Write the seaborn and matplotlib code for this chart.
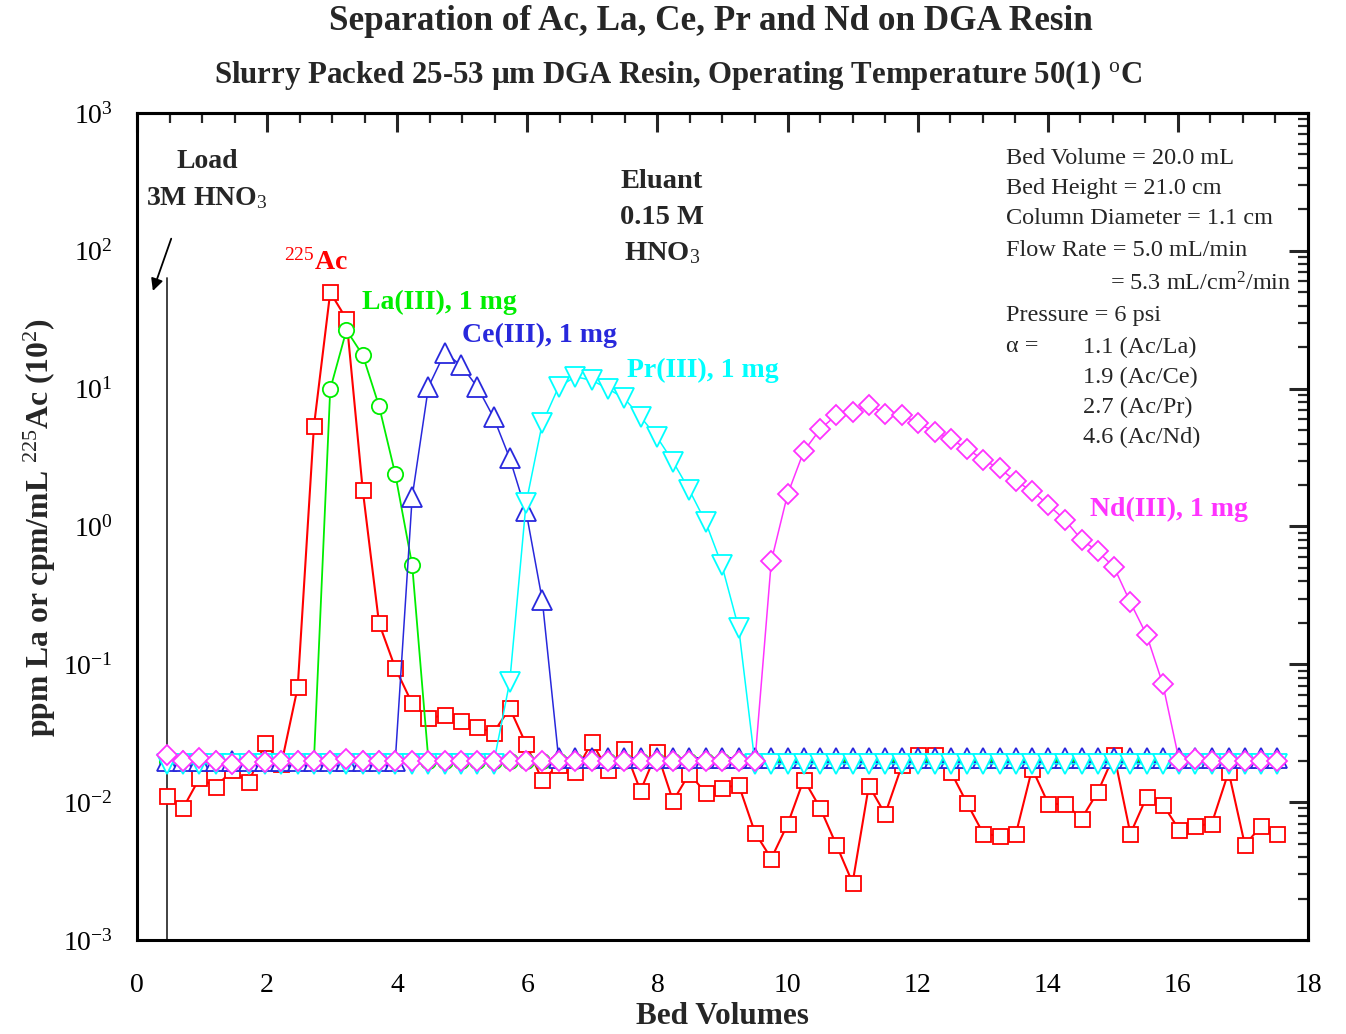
import numpy as np
import pandas as pd
import matplotlib
matplotlib.use("Agg")
import matplotlib.pyplot as plt
import seaborn as sns
from matplotlib.ticker import MultipleLocator, LogLocator, NullFormatter

# ---------------- data ----------------
bed_volumes = [0.46, 0.71, 0.96, 1.21, 1.46, 1.72, 1.97, 2.22, 2.47, 2.72,
               2.97, 3.22, 3.47, 3.72, 3.97, 4.23, 4.48, 4.73, 4.98, 5.23,
               5.48, 5.73, 5.98, 6.23, 6.48, 6.74, 6.99, 7.24, 7.49, 7.74,
               7.99, 8.24, 8.49, 8.74, 8.99, 9.25, 9.50, 9.75, 10.00, 10.25,
               10.50, 10.75, 11.00, 11.25, 11.50, 11.76, 12.01, 12.26, 12.51, 12.76,
               13.01, 13.26, 13.51, 13.76, 14.01, 14.27, 14.52, 14.77, 15.02, 15.27,
               15.52, 15.77, 16.02, 16.27, 16.52, 16.78, 17.03, 17.28, 17.53]

ac225 = [0.011, 0.0091, 0.0149, 0.0129, 0.017, 0.014, 0.0268, 0.019, 0.068, 5.35,
         50, 32, 1.84, 0.199, 0.094, 0.052, 0.0407, 0.0428, 0.039, 0.035,
         0.032, 0.048, 0.0264, 0.0144, 0.0186, 0.0166, 0.0271, 0.0171, 0.0245, 0.0121,
         0.0232, 0.0102, 0.0161, 0.0117, 0.0127, 0.0133, 0.0060, 0.0039, 0.0069, 0.0146,
         0.0091, 0.0049, 0.0026, 0.0132, 0.0082, 0.0186, 0.022, 0.022, 0.0166, 0.0098,
         0.0059, 0.0057, 0.0059, 0.0175, 0.0097, 0.0097, 0.0076, 0.0119, 0.022, 0.0059,
         0.0109, 0.0096, 0.0063, 0.0067, 0.0070, 0.0166, 0.0049, 0.0067, 0.0059]

la = [0.02] * 10 + [9.9, 26.6, 17.5, 7.5, 2.4, 0.525] + [0.02] * 53

ce = [0.02] * 15 + [1.64, 10.3, 18.2, 14.8, 10.3, 6.2, 3.12, 1.29, 0.292] + [0.021] * 45

pr = [0.019] * 21 + [0.075, 1.47, 5.6, 10.3, 12.2, 11.5, 10.0, 8.5, 6.25,
                     4.48, 2.95, 1.84, 1.08, 0.525, 0.182] + [0.019] * 33

nd = [0.022, 0.020, 0.021, 0.020, 0.019, 0.020, 0.0195, 0.020, 0.020, 0.020,
      0.020, 0.0205, 0.020, 0.020, 0.020, 0.020, 0.020, 0.020, 0.020, 0.020,
      0.020, 0.020, 0.020, 0.020, 0.020, 0.020, 0.020, 0.020, 0.020, 0.020,
      0.020, 0.020, 0.020, 0.020, 0.020, 0.020, 0.020,
      0.561, 1.71, 3.52, 5.07, 6.43, 6.8, 7.6, 6.6, 6.43, 5.6, 4.87, 4.28,
      3.68, 3.03, 2.64, 2.13, 1.81, 1.43, 1.11, 0.80, 0.66, 0.505, 0.281,
      0.163, 0.0714, 0.020, 0.0205, 0.020, 0.020, 0.020, 0.020, 0.020]

series_names = ["Ac", "La", "Ce", "Pr", "Nd"]
series_values = [ac225, la, ce, pr, nd]
series_colors = ["#FF0000", "#00EE00", "#2828DC", "#00FFFF", "#FF33FF"]
series_markers = ["s", "o", "^", "v", "D"]
series_msize = [10.8, 11, 14, 14, 10.5]
series_lw = [1.5, 1.3, 1.1, 1.1, 1.1]

x_ticks = [0, 2, 4, 6, 8, 10, 12, 14, 16, 18]
y_ticks = [1e-3, 1e-2, 1e-1, 1e0, 1e1, 1e2, 1e3]
y_ticklabels = [r"10$^{-3}$", r"10$^{-2}$", r"10$^{-1}$", r"10$^{0}$",
                r"10$^{1}$", r"10$^{2}$", r"10$^{3}$"]

# ---------------- style ----------------
sns.set_theme(style="white")
plt.rcParams["font.family"] = ["Liberation Serif", "DejaVu Serif"]
plt.rcParams["mathtext.fontset"] = "custom"
plt.rcParams["mathtext.rm"] = "Liberation Serif"
plt.rcParams["mathtext.it"] = "Liberation Serif:italic"
plt.rcParams["mathtext.bf"] = "Liberation Serif:bold"
plt.rcParams["axes.unicode_minus"] = False

W, H = 1346, 1034
fig = plt.figure(figsize=(W / 100, H / 100), dpi=100)
ax = fig.add_axes([137 / W, 1 - 940 / H, (1308 - 137) / W, (940 - 113) / H])

for name, vals, col, mk, ms, lw in zip(series_names, series_values, series_colors,
                                        series_markers, series_msize, series_lw):
    df = pd.DataFrame({"bv": bed_volumes, "val": vals})
    sns.lineplot(data=df, x="bv", y="val", ax=ax, color=col, marker=mk,
                 markersize=ms, markerfacecolor="white", markeredgecolor=col,
                 markeredgewidth=1.3, linewidth=lw, sort=False, estimator=None)

ax.set_yscale("log")
ax.set_xlim(0, 18)
ax.set_ylim(1e-3, 1e3)
ax.set_xlabel("")
ax.set_ylabel("")
ax.set_xticks(x_ticks)
ax.xaxis.set_minor_locator(MultipleLocator(0.5))
ax.set_yticks(y_ticks)
ax.set_yticklabels(y_ticklabels)
ax.yaxis.set_minor_locator(LogLocator(base=10, subs=np.arange(2, 10), numticks=100))
ax.yaxis.set_minor_formatter(NullFormatter())
ax.tick_params(axis="x", which="major", pad=10)
ax.tick_params(axis="both", which="major", direction="out", length=14, width=2.2,
               labelsize=20, colors="black")
ax.tick_params(axis="both", which="minor", direction="out", length=7.5, width=1.6)
for sp in ax.spines.values():
    sp.set_linewidth(2.2)
    sp.set_color("black")
    sp.set_visible(True)

# mirrored ticks pointing inward on top and right
top = ax.secondary_xaxis("top")
top.set_xticks(x_ticks)
top.xaxis.set_minor_locator(MultipleLocator(0.5))
top.tick_params(which="major", direction="in", length=14, width=2.2, labeltop=False)
top.tick_params(which="minor", direction="in", length=7.5, width=1.6)
top.spines["top"].set_linewidth(2.2)
right = ax.secondary_yaxis("right")
right.set_yticks(y_ticks)
right.yaxis.set_minor_locator(LogLocator(base=10, subs=np.arange(2, 10), numticks=100))
right.yaxis.set_minor_formatter(NullFormatter())
right.tick_params(which="major", direction="in", length=14, width=2.2, labelright=False)
right.tick_params(which="minor", direction="in", length=7.5, width=1.6, labelright=False)
right.spines["right"].set_linewidth(2.2)

# load marker line and arrow
ax.plot([0.46, 0.46], [1e-3, 63], color="#333333", lw=1.3, zorder=1)
ax.annotate("", xy=(0.23, 49), xytext=(0.54, 128),
            arrowprops=dict(arrowstyle="-|>", color="black", lw=1.3,
                            mutation_scale=18))

def ftext(px, py, s, **kw):
    fig.text(px / W, 1 - py / H, s, **kw)

# titles
ftext(711, 22, "Separation of Ac, La, Ce, Pr and Nd on DGA Resin",
      ha="center", va="center", fontsize=25.3, fontweight="bold")
ftext(678, 75, r"Slurry Packed 25-53 µm DGA Resin, Operating Temperature 50(1) $^{\rm o}$C",
      ha="center", va="center", fontsize=22.2, fontweight="bold")
ftext(722, 1016, "Bed Volumes", ha="center", va="center", fontsize=22.5, fontweight="bold")
ftext(40, 528, r"ppm La or cpm/mL $^{225}$Ac (10$^{2}$)", ha="center", va="center",
      rotation=90, fontsize=22.8, fontweight="bold")

# annotations
ftext(207, 162, "Load", ha="center", va="center", fontsize=20, fontweight="bold")
ftext(207, 198, r"3M HNO$_3$", ha="center", va="center", fontsize=20, fontweight="bold")
ftext(662, 182, "Eluant", ha="center", va="center", fontsize=20.5, fontweight="bold")
ftext(662, 217, "0.15 M", ha="center", va="center", fontsize=20.5, fontweight="bold")
ftext(662, 253, r"HNO$_3$", ha="center", va="center", fontsize=20.5, fontweight="bold")

ftext(284, 262, r"$^{225}$Ac", ha="left", va="center", fontsize=20,
      fontweight="bold", color="#FF0000")
ftext(362, 302, "La(III), 1 mg", ha="left", va="center", fontsize=20,
      fontweight="bold", color="#00EE00")
ftext(462, 335, "Ce(III), 1 mg", ha="left", va="center", fontsize=20,
      fontweight="bold", color="#2828DC")
ftext(627, 370, "Pr(III), 1 mg", ha="left", va="center", fontsize=20,
      fontweight="bold", color="#00FFFF")
ftext(1090, 509, "Nd(III), 1 mg", ha="left", va="center", fontsize=20,
      fontweight="bold", color="#FF33FF")

info_lines = [(1006, 158, "Bed Volume = 20.0 mL"),
              (1006, 188, "Bed Height = 21.0 cm"),
              (1006, 219, "Column Diameter = 1.1 cm"),
              (1006, 250, "Flow Rate = 5.0 mL/min"),
              (1110, 284, r"= 5.3 mL/cm$^{2}$/min"),
              (1006, 316, "Pressure = 6 psi"),
              (1006, 347, "α ="),
              (1083, 347, "1.1 (Ac/La)"),
              (1083, 377, "1.9 (Ac/Ce)"),
              (1083, 407, "2.7 (Ac/Pr)"),
              (1083, 437, "4.6 (Ac/Nd)")]
for px, py, s in info_lines:
    ftext(px, py, s, ha="left", va="center", fontsize=17.5)

fig.savefig("out.png", dpi=100)
